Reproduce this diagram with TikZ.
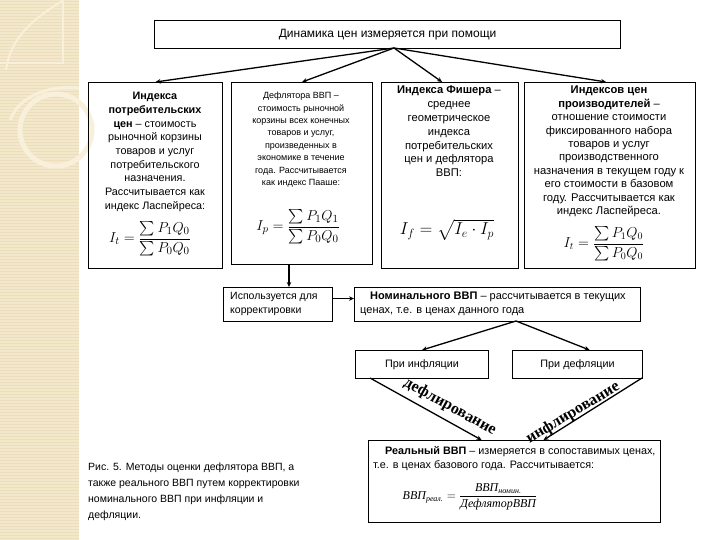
\documentclass[tikz,border=0pt]{standalone}
\usepackage{amsmath}
\usepackage{fontspec}
\setmainfont{Liberation Sans}
\newfontfamily\serifcyr{Liberation Serif}
\usetikzlibrary{arrows.meta,calc}
\definecolor{beige}{RGB}{243,232,203}
\definecolor{beigeline}{RGB}{236,222,186}
\definecolor{beigearc}{RGB}{248,240,218}
\newcommand{\cy}[1]{\text{\serifcyr\itshape #1}}
\begin{document}
\begin{tikzpicture}[x=1pt,y=-1pt,
  boxs/.style={draw, line width=1.1pt, inner sep=0pt, anchor=north west},
  txt/.style={inner sep=0pt, align=center, anchor=north},
  ltxt/.style={inner sep=0pt, align=left, anchor=north west},
  arr/.style={line width=1.3pt, -{Stealth[length=5pt,width=4.5pt]}},
  wa/.style={inner sep=0pt, font=\serifcyr\bfseries\fontsize{16}{16}\selectfont},
]
\useasboundingbox (0,0) rectangle (720,540);
% decorative strip
\fill[beige] (0,0) rectangle (79,540);
\foreach \yy in {1.5,4.5,...,540} \draw[beigeline, line width=0.7pt] (0,\yy) -- (79,\yy);
\draw[beigearc, line width=5pt] (56,130) circle (36);
\draw[beigearc, line width=1.5pt] (0,63) -- (63,63) -- (63,0);
\draw[beigearc, line width=2pt] (64,0) .. controls (30,20) and (10,40) .. (6,70);
\draw[beigearc, line width=3pt] (10,120) .. controls (20,95) and (50,85) .. (79,88);

% top box
\node[boxs, minimum width=466pt, minimum height=28pt] (top) at (154,20) {};
\node[font=\fontsize{12}{14}\selectfont, inner sep=0pt] (toptxt) at (top.center) {Динамика цен измеряется при помощи};
\coordinate (o) at (394,48);

% four boxes
\node[boxs, minimum width=134pt, minimum height=186pt] (b1) at (88,82) {};
\node[boxs, minimum width=141pt, minimum height=182pt] (b2) at (231,82) {};
\node[boxs, minimum width=137pt, minimum height=186pt] (b3) at (381,82) {};
\node[boxs, minimum width=171pt, minimum height=186pt] (b4) at (524,82) {};

\draw[arr] (o) -- (b1.north);
\draw[arr] (o) -- (b2.north);
\draw[arr] (o) -- ([xshift=-8pt]b3.north);
\draw[arr] (o) -- ([xshift=-4pt]b4.north);

\node[txt, font=\fontsize{10.8}{13.7}\selectfont] (t1) at (155,92)
 {\textbf{Индекса}\\\textbf{потребительских}\\\textbf{цен} – стоимость\\рыночной корзины\\товаров и услуг\\потребительского\\назначения.\\Рассчитывается как\\индекс Ласпейреса:};
\node[font=\fontsize{15}{17}\selectfont, inner sep=0pt] (f1) at (150,239) {$I_t=\dfrac{\sum P_1Q_0}{\sum P_0Q_0}$};

\node[txt, font=\fontsize{9}{12.4}\selectfont] (t2) at (301,92)
 {Дефлятора ВВП –\\стоимость рыночной\\корзины всех конечных\\товаров и услуг,\\произведенных в\\экономике в течение\\года. Рассчитывается\\как индекс Пааше:};
\node[font=\fontsize{15}{17}\selectfont, inner sep=0pt] (f2) at (298,227) {$I_p=\dfrac{\sum P_1Q_1}{\sum P_0Q_0}$};

\node[txt, font=\fontsize{11.2}{13.8}\selectfont] (t3) at (449,86)
 {\textbf{Индекса Фишера} –\\среднее\\геометрическое\\индекса\\потребительских\\цен и дефлятора\\ВВП:};
\node[font=\fontsize{17}{19}\selectfont, inner sep=0pt] (f3) at (447,230) {$I_f=\sqrt{I_e\cdot I_p}$};

\node[txt, font=\fontsize{11.2}{13.4}\selectfont] (t4) at (609,86)
 {\textbf{Индексов цен}\\\textbf{производителей} –\\отношение стоимости\\фиксированного набора\\товаров и услуг\\производственного\\назначения в текущем году к\\его стоимости в базовом\\году. Рассчитывается как\\индекс Ласпейреса.};
\node[font=\fontsize{14}{16}\selectfont, inner sep=0pt] (f4) at (604,244) {$I_t=\dfrac{\sum P_1Q_0}{\sum P_0Q_0}$};

% correction row
\node[boxs, minimum width=109pt, minimum height=34pt] (b5) at (223,287) {};
\node[ltxt, font=\fontsize{10.5}{14}\selectfont] (t5) at (230,292) {Используется для\\корректировки};
\coordinate (c5) at (289,287);
\draw[arr] (b2.south -| c5) -- (c5);

\node[boxs, minimum width=286pt, minimum height=34pt] (b6) at (354,287) {};
\node[ltxt, font=\fontsize{11}{14}\selectfont] (t6) at (360,292) {\hspace*{10pt}\textbf{Номинального ВВП} – рассчитывается в текущих\\ценах, т.е. в ценах данного года};
\draw[arr] ([yshift=6pt]b5.east) -- ([yshift=6pt]b5.east -| b6.west);

% inflation / deflation
\node[boxs, minimum width=133pt, minimum height=28pt] (b7) at (355,350) {};
\node[font=\fontsize{10.8}{13}\selectfont, inner sep=0pt] (t7) at (b7.center) {При инфляции};
\node[boxs, minimum width=130pt, minimum height=28pt] (b8) at (512,350) {};
\node[font=\fontsize{10.8}{13}\selectfont, inner sep=0pt] (t8) at (b8.center) {При дефляции};
\coordinate (o6) at (516,321);
\draw[arr] (o6) -- (b7.north);
\draw[arr] (o6) -- ([xshift=12pt]b8.north);

% real GDP box
\node[boxs, minimum width=292pt, minimum height=82pt] (b9) at (368,440) {};
\node[ltxt, font=\fontsize{10.8}{14.5}\selectfont] (t9) at (373,446) {\hspace*{12pt}\textbf{Реальный ВВП} – измеряется в сопоставимых ценах,\\т.е. в ценах базового года. Рассчитывается:};
\node[font=\fontsize{12}{14}\selectfont, inner sep=0pt] (f9) at (470,497) {$\cy{ВВП}_{\cy{реал.}}=\dfrac{\cy{ВВП}_{\cy{номин.}}}{\cy{ДефляторВВП}}$};

\coordinate (s7) at (370,378);
\coordinate (s8) at (642,378);
\draw[arr] (s7) -- ([xshift=-33pt]b9.north);
\draw[arr] (s8) -- ([xshift=29pt]b9.north);
\node[wa, rotate=-29] (w1) at (450,407) {дефлирование};
\node[wa, rotate=31] (w2) at (573,413) {инфлирование};

% caption
\node[ltxt, font=\fontsize{10.5}{16}\selectfont] (cap) at (88,463) {Рис. 5. Методы оценки дефлятора ВВП, а\\также реального ВВП путем корректировки\\номинального ВВП при инфляции и\\дефляции.};
\end{tikzpicture}
\end{document}
